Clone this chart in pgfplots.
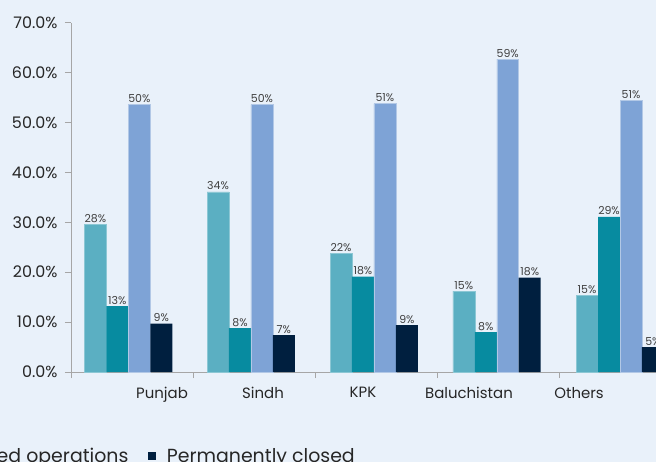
\documentclass[border=0pt]{standalone}
\usepackage{pgfplots}
\pgfplotsset{compat=1.18}
\usepackage{fontspec}
\setmainfont{Poppins}
\definecolor{bg}{HTML}{E9F1FA}
\definecolor{cA}{HTML}{5BAFC2}
\definecolor{cB}{HTML}{078BA0}
\definecolor{cC}{HTML}{7EA3D6}
\definecolor{cD}{HTML}{001F3F}
\definecolor{axgray}{HTML}{A6A6A6}
\definecolor{txt}{HTML}{262626}
\definecolor{lbl}{HTML}{404040}
\begin{document}
\begin{tikzpicture}
\useasboundingbox (-71bp,-90bp) rectangle (585bp,372bp);
\clip (-71bp,-90bp) rectangle (585bp,372bp);
\fill[bg] (-71bp,-90bp) rectangle (585bp,372bp);
\begin{axis}[
  scale only axis,
  width=585bp, height=349.3bp,
  xmin=0, xmax=4.795, ymin=0, ymax=70,
  axis x line*=bottom, axis y line*=left,
  axis line style={axgray, line width=0.8bp, -},
  every tick/.style={axgray, line width=0.8bp},
  tick align=outside,
  major tick length=6bp,
  xtick={0,1,2,3,4}, xticklabels={},
  extra x ticks={0.746,1.574,2.393,3.262,4.164},
  extra x tick labels={Punjab,Sindh,KPK,Baluchistan,Others},
  extra x tick style={major tick length=0pt, tick style={draw=none}},
  xticklabel style={font=\fontsize{15}{18}\selectfont, text=txt, yshift=-12bp},
  ytick={0,10,...,70},
  /pgf/number format/assume math mode=true,
  yticklabel={\pgfmathprintnumber[fixed,fixed zerofill,precision=1]{\tick}\%},
  yticklabel style={font=\fontsize{16}{18}\selectfont, text=txt, xshift=-4bp},
  ybar, bar shift=0pt, bar width=0.18,
  point meta=explicit symbolic,
  nodes near coords,
  nodes near coords style={font=\fontsize{11}{13}\selectfont, text=lbl, inner sep=1.5bp},
  legend columns=-1,
  legend style={at={(0.494,-0.205)}, anchor=north east, draw=none, fill=none,
    font=\fontsize{19}{22}\selectfont, text=txt,
    /tikz/every odd column/.append style={column sep=9bp},
    /tikz/every even column/.append style={column sep=18bp}},
  legend image code/.code={\fill[#1] (0bp,-3.9bp) rectangle (7.4bp,3.9bp);},
]
\addplot[fill=cA, draw=cA!70!white, line width=0.5bp] coordinates {
 (0.200,29.6) [28\%] (1.205,36.1) [34\%] (2.213,23.7) [22\%] (3.220,16.2) [15\%] (4.230,15.4) [15\%] };
\addplot[fill=cB, draw=none] coordinates {
 (0.380,13.2) [13\%] (1.385,8.8) [8\%] (2.393,19.1) [18\%] (3.400,8.0) [8\%] (4.410,31.1) [29\%] };
\addplot[fill=cC, draw=cC!60!white, line width=0.5bp] coordinates {
 (0.560,53.6) [50\%] (1.565,53.6) [50\%] (2.573,53.8) [51\%] (3.580,62.7) [59\%] (4.590,54.5) [51\%] };
\addplot[fill=cD, draw=none] coordinates {
 (0.740,9.7) [9\%] (1.745,7.4) [7\%] (2.753,9.4) [9\%] (3.760,18.9) [18\%] (4.770,5.0) [5\%] };
\legend{Fully operational, Temporarily closed, Reduced operations, Permanently closed}
\end{axis}
\end{tikzpicture}
\end{document}
